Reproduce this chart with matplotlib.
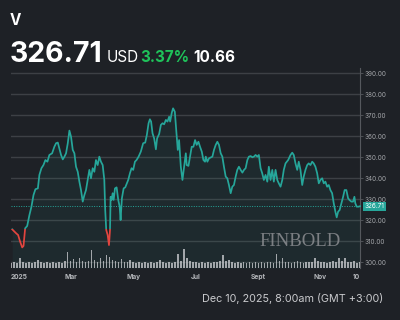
import numpy as np
import matplotlib
matplotlib.use("Agg")
import matplotlib.pyplot as plt
import matplotlib.transforms as mtransforms
from matplotlib.patches import Rectangle

# ---------------------------------------------------------------------------
# dados: fechamento de V (Visa) em 2025, dias contados desde 1 jan
day = [1.2, 5.1, 7, 9, 11, 12.3, 13.9, 15.9, 18.1, 20.1, 22.1, 24, 26.4, 27.9, 29.9, 31.9, 33.8, 35.8,
       37.7, 40.4, 42.6, 44.3, 46, 47.5, 49.2, 50.9, 52.5, 54.1, 55.8, 57.4, 59, 60.7, 62.3, 63.9,
       65.6, 67.2, 68.8, 70.5, 72.1, 73.7, 75.4, 77, 78.6, 80.3, 81.9, 83.5, 85.2, 86.8, 88.4, 90.1,
       91.7, 92.6, 93.6, 95, 96.3, 97.3, 97.9, 98.9, 99.9, 100.9, 102.2, 103.8, 105.4, 106.8, 107.7,
       109, 110.7, 112.3, 113.9, 115.2, 116.9, 118.5, 120.1, 121.8, 123.4, 125.4, 127.6, 129.9, 131.9,
       133.5, 135.2, 136.5, 137.7, 139.1, 140.7, 142.4, 143.6, 145.6, 147.3, 148.9, 150.5, 152.2,
       153.8, 155.4, 156.4, 158, 159.3, 161, 162.6, 163.9, 165.2, 166.9, 168.5, 170.1, 171.8, 172.7,
       174.4, 176, 177.6, 179.3, 180.9, 182.5, 184.2, 185.8, 187.5, 189.1, 190.7, 191.4, 193, 194.6,
       197.9, 199.5, 201.2, 202.8, 204.4, 206.1, 207.7, 209.3, 211, 212.6, 214.2, 215.9, 217.5, 219.1,
       220.8, 222.4, 224, 225.7, 227.4, 229, 230.6, 232.3, 233.8, 235.5, 237.2, 238.7, 240.4, 242.1,
       243.6, 245.3, 246.9, 248.5, 250.2, 251.9, 253.4, 255.1, 256.8, 258.3, 260, 261.7, 263.2, 264.9,
       266.6, 268.1, 269.8, 272.4, 274.7, 276.4, 277.9, 279.6, 281.3, 282.8, 284.5, 286.2, 287.7,
       289.4, 291.1, 292.6, 294.3, 296, 297.5, 299.2, 300.9, 302.5, 304.1, 305.8, 307.4, 309, 310.7,
       312.3, 313.9, 315.6, 317.2, 318.8, 320.1, 321.5, 323, 324.7, 326.4, 327.9, 329.6, 331.3, 332.6,
       334.5, 336.2, 337.5, 338.4, 339.7, 341.7, 343]
close = [315.7, 313.8, 313, 309.8, 307.1, 307.8, 316.2, 317.3, 322.5, 326.5, 332, 334.8, 335.2, 341.6,
         344.8, 346.3, 348.7, 347.9, 351.1, 351.9, 355, 356.7, 357, 354.3, 351.1, 349, 350.3, 351.9,
         356.7, 362.7, 359.8, 353.5, 351.9, 345.5, 343.1, 338.4, 334.4, 328.9, 332, 334.4, 339.2, 344,
         340, 344.8, 343.1, 348.7, 346.3, 350.3, 347.9, 346.3, 339.2, 324.9, 315.4, 313, 308.2, 315.4,
         331.2, 329.7, 332.9, 329.7, 335.2, 335.7, 329.7, 326.5, 320.1, 330.5, 335.2, 335.7, 337.6,
         339.2, 342.4, 344.8, 344, 347.9, 348.7, 350.3, 352.7, 356.7, 357, 360.6, 366.2, 368.1, 367,
         361.4, 359, 353.8, 359, 361.1, 365.4, 366.2, 365.7, 367.8, 367, 369.3, 367, 371.2, 373.3,
         371.7, 361.4, 353.5, 358.2, 345.5, 339.2, 345.5, 351.9, 346.3, 345.9, 350.3, 355, 355, 358.2,
         355.9, 357.4, 355, 352.7, 348.7, 347.9, 350.3, 347.9, 349.5, 350.3, 353.5, 355.9, 357.4,
         355.9, 351.9, 350.3, 345.5, 340.8, 340, 336.8, 332.9, 336, 336.8, 340.8, 344, 345.5, 344,
         342.7, 344, 344.8, 348.7, 350.3, 350.6, 350, 350.3, 351.1, 350.3, 351.1, 344.8, 342.4, 339.2,
         341.6, 338.4, 345.5, 339.2, 344, 338.4, 344, 339.2, 337.6, 336, 339.2, 344, 347.1, 348.7,
         351.1, 352.2, 351.1, 347.1, 344, 347.9, 344, 336.8, 340.8, 344, 346.3, 347.1, 346.3, 347.9,
         347.1, 345.5, 342.4, 337.6, 339.2, 340, 337.6, 338.4, 336, 336.8, 334.4, 332.9, 328.1, 324.1,
         321.4, 324.1, 324.9, 328.1, 331.2, 334.4, 334.4, 330.5, 329.7, 328.9, 328.9, 331.2, 328.1,
         326.5, 326.5, 326.71]

volume = [5.5, 6, 5, 9.7, 6, 5.5, 6.5, 5, 6, 8.3,
          6, 5.5, 6, 5, 6.5, 5.5, 6, 5, 7, 16.3,
          7, 9, 6.5, 9.7, 7, 6, 7.5, 18, 8, 6.5,
          9.7, 7, 13, 11.3, 8, 7, 6, 9, 6.5, 6,
          8.3, 6, 5.5, 6, 5, 6.5, 5.5, 6, 5, 6,
          8.3, 6, 5.5, 6, 5, 6.5, 14.3, 7, 18.7, 9.7,
          7, 6, 6.5, 5.5, 6, 5, 6, 5.5, 6.5, 6,
          7, 13, 7, 8, 6, 5.5, 6, 5, 6, 5.5,
          6, 5, 6.5, 5.5, 6, 5, 6, 6.5, 5.5, 13.7,
          7, 9.7, 6, 6.5, 5.5, 6, 7, 6, 5.5, 6,
          6.5, 6, 9.7, 7, 6, 6.5, 5.5, 6, 7, 6,
          9.7, 7, 9.7, 6.5, 6, 7, 5.5, 6]

ticks_day = [0, 59, 120, 181, 243, 304, 343]
ticks_lab = ['2025', 'Mar', 'May', 'Jul', 'Sept', 'Nov', '10']
yticks = [300, 310, 320, 330, 340, 350, 360, 370, 380, 390]

ticker = 'V'
last_price = 326.71
pct_change = '3.37%'
abs_change = '10.66'
stamp = 'Dec 10, 2025, 8:00am (GMT +3:00)'

#######################################################################################################################################
# cores
bg = '#1e2126'
teal = '#26a69a'
red = '#e2453f'
grid = '#3d4045'
txt = '#a3a5a9'

plt.rcParams['font.family'] = ['Inter', 'DejaVu Sans']

fig = plt.figure(figsize=(4, 3.2), dpi=100, facecolor=bg)
ax = fig.add_axes([11/400, 1-268/320, 349/400, 200/320])
ax.set_facecolor(bg)

ax.set_xlim(day[0], day[-1])
ax.set_ylim(297.3, 392.5)

for y in yticks:
    ax.axhline(y, color=grid, lw=1.0, zorder=1)

# area sob a curva
ax.fill_between(day, close, 297.3, color=teal, alpha=0.07, lw=0, zorder=2)

# linha: verde acima do preco inicial, vermelha abaixo
limiar = close[0]
l_up, = ax.plot(day, close, color=teal, lw=1.25, zorder=4)
l_dn, = ax.plot(day, close, color=red, lw=1.25, zorder=4)
r_up = Rectangle((-10, limiar), 400, 200, transform=ax.transData)
r_dn = Rectangle((-10, limiar - 200), 400, 200, transform=ax.transData)
l_up.set_clip_path(r_up)
l_dn.set_clip_path(r_dn)

# linha do ultimo preco
ax.axhline(last_price, color=teal, lw=0.7, ls=(0, (1, 1.5)), zorder=3)
trans = mtransforms.blended_transform_factory(ax.transAxes, ax.transData)
ax.text(1.012, last_price, f'{last_price:.2f}', transform=trans, fontsize=4.6, color='white',
        va='center', ha='left', zorder=6, clip_on=False,
        bbox=dict(boxstyle='square,pad=0.25', fc=teal, ec='none'))

# eixos
for s in ['top', 'left', 'bottom']:
    ax.spines[s].set_visible(False)
ax.spines['right'].set_color('#55585d')
ax.spines['right'].set_linewidth(0.8)
ax.yaxis.tick_right()
ax.set_yticks(yticks)
ax.set_yticklabels([f'{v:.2f}' for v in yticks])
ax.tick_params(axis='y', length=2, width=0.6, color='#55585d', labelsize=4.6, labelcolor=txt, pad=1.5)
ax.set_xticks(ticks_day)
ax.set_xticklabels(ticks_lab)
ax.tick_params(axis='x', length=0, labelsize=4.8, labelcolor='#b5b7bb', pad=4)
for t in ax.get_xticklabels():
    t.set_fontweight('bold')
ax.get_xticklabels()[0].set_ha('left')
ax.get_xticklabels()[-1].set_ha('right')

# marca d'agua
ax.text(0.828, 0.135, 'FINBOLD', transform=ax.transAxes, fontsize=13.5, color='#8c8e92',
        family='Liberation Serif', ha='center', va='center', alpha=0.85, zorder=3)

# volume
axv = fig.add_axes([11/400, 1-268/320, 349/400, 20/320])
axv.patch.set_alpha(0)
vol_x = np.linspace(day[0], day[-1], len(volume))
axv.bar(vol_x, volume, width=1.6, color='#c4c6ca', alpha=0.8, lw=0)
axv.set_xlim(day[0], day[-1])
axv.set_ylim(0, 20)
axv.axis('off')

# cabecalho
fig.text(10/400, 1-25/320, ticker, fontsize=11, weight='bold', color='white', va='baseline')
fig.text(10/400, 1-62/320, f'{last_price:.2f}', fontsize=20.5, weight='bold', color='white', va='baseline')
fig.text(107/400, 1-62/320, 'USD', fontsize=11, color='white', va='baseline')
fig.text(140/400, 1-62/320, pct_change, fontsize=11, weight='bold', color='#1fc25a', va='baseline')
fig.text(193/400, 1-62/320, abs_change, fontsize=11, weight='bold', color='white', va='baseline')

fig.text(383/400, 1-302/320, stamp, fontsize=7.8, color='#c9cacd', ha='right', va='baseline')

fig.savefig('out.png', dpi=100, facecolor=bg)
